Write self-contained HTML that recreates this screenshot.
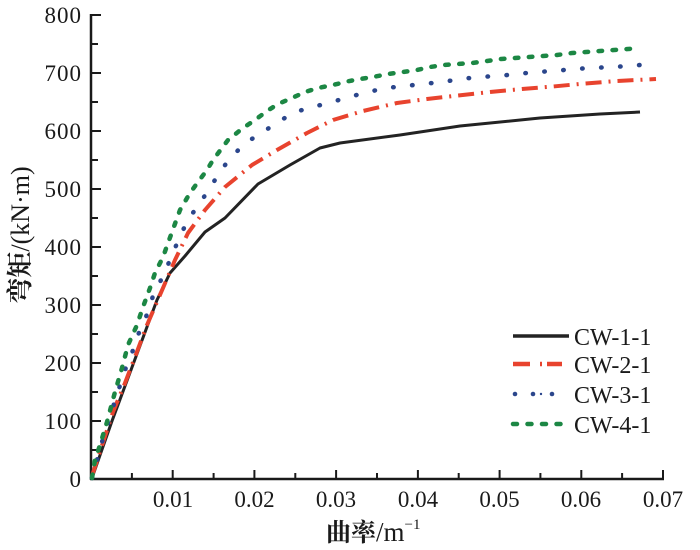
<!DOCTYPE html>
<html>
<head>
<meta charset="utf-8">
<style>
html,body{margin:0;padding:0;background:#fff;}
svg{display:block;}
.t{font-family:"Liberation Serif","Noto Serif CJK SC",serif;fill:#1a1a1a;}
</style>
</head>
<body>
<svg width="700" height="550" viewBox="0 0 700 550" xmlns="http://www.w3.org/2000/svg">
<rect width="700" height="550" fill="#fff"/>
<!-- axes -->
<g stroke="#1a1a1a" stroke-width="2.5" fill="none">
<line x1="91" y1="14" x2="91" y2="480"/>
<line x1="90" y1="479" x2="664" y2="479"/>
</g>
<!-- y ticks -->
<g stroke="#1a1a1a" stroke-width="2">
<line x1="91" y1="15" x2="101" y2="15"/>
<line x1="91" y1="44" x2="98" y2="44"/>
<line x1="91" y1="73" x2="101" y2="73"/>
<line x1="91" y1="102" x2="98" y2="102"/>
<line x1="91" y1="131" x2="101" y2="131"/>
<line x1="91" y1="160" x2="98" y2="160"/>
<line x1="91" y1="189" x2="101" y2="189"/>
<line x1="91" y1="218" x2="98" y2="218"/>
<line x1="91" y1="247" x2="101" y2="247"/>
<line x1="91" y1="276" x2="98" y2="276"/>
<line x1="91" y1="305" x2="101" y2="305"/>
<line x1="91" y1="334" x2="98" y2="334"/>
<line x1="91" y1="363" x2="101" y2="363"/>
<line x1="91" y1="392" x2="98" y2="392"/>
<line x1="91" y1="421" x2="101" y2="421"/>
<line x1="91" y1="450" x2="98" y2="450"/>
</g>
<!-- x ticks -->
<g stroke="#1a1a1a" stroke-width="2">
<line x1="131.9" y1="479" x2="131.9" y2="473"/>
<line x1="172.7" y1="479" x2="172.7" y2="470"/>
<line x1="213.6" y1="479" x2="213.6" y2="473"/>
<line x1="254.4" y1="479" x2="254.4" y2="470"/>
<line x1="295.3" y1="479" x2="295.3" y2="473"/>
<line x1="336.1" y1="479" x2="336.1" y2="470"/>
<line x1="377" y1="479" x2="377" y2="473"/>
<line x1="417.9" y1="479" x2="417.9" y2="470"/>
<line x1="458.7" y1="479" x2="458.7" y2="473"/>
<line x1="499.6" y1="479" x2="499.6" y2="470"/>
<line x1="540.4" y1="479" x2="540.4" y2="473"/>
<line x1="581.3" y1="479" x2="581.3" y2="470"/>
<line x1="622.1" y1="479" x2="622.1" y2="473"/>
<line x1="663" y1="479" x2="663" y2="470"/>
</g>
<!-- y labels -->
<g class="t" font-size="23" text-anchor="end" letter-spacing="1">
<text x="82" y="23">800</text>
<text x="82" y="81">700</text>
<text x="82" y="139">600</text>
<text x="82" y="197">500</text>
<text x="82" y="255">400</text>
<text x="82" y="313">300</text>
<text x="82" y="371">200</text>
<text x="82" y="429">100</text>
<text x="82" y="487">0</text>
</g>
<!-- x labels -->
<g class="t" font-size="23" text-anchor="middle">
<text x="173" y="507">0.01</text>
<text x="254.5" y="507">0.02</text>
<text x="336" y="507">0.03</text>
<text x="418" y="507">0.04</text>
<text x="499.5" y="507">0.05</text>
<text x="581" y="507">0.06</text>
<text x="663" y="507">0.07</text>
</g>
<!-- axis titles -->
<text class="t" x="326" y="541" font-size="25" font-weight="bold">曲率<tspan font-weight="normal" font-size="27">/m</tspan><tspan font-weight="normal" font-size="15" dy="-12">−1</tspan></text>
<text class="t" transform="translate(29,235) rotate(-90)" x="0" y="0" font-size="26" text-anchor="middle"><tspan font-weight="bold">弯矩</tspan>/(kN·m)</text>

<!-- series -->
<g fill="none" stroke-linejoin="round">
<polyline stroke="#232323" stroke-width="3" points="92,478 112,421 157,300 170,273 185,256 205,232 225,218 258,184 290,165 320,148 340,143 400,135 460,126 540,118 600,114 640,112"/>
<polyline stroke="#e8432e" stroke-width="4" stroke-dasharray="16 7 2 7" points="92,476 113,412 125,383 135,357 147,325 163,288 175,260 188,233 205,210 225,187 252,165 277,150 307,133 333,120 363,111 397,103 427,99 458,95.5 490,92 522,89 553,86.5 585,83.5 617,81 656,79"/>
<polyline stroke="#2b468c" stroke-width="4.5" stroke-linecap="round" stroke-dasharray="0.5 18.5" points="92,478 97,460 102,442 113,407 125,370 132,353 138,335 146,317 153,296 160,282 167,267 175,248 183,230 190,217 202,200 213,183 222,169 232,156 247,142 263,132 278,122 295,112 313,107 332,102 349,97 368,92 386,88 405,86 423,84 442,82 461,79 479,77 498,76 517,74 536,72 555,71 573,69 592,68 611,67 630,66 640,65"/>
<polyline stroke="#1c8744" stroke-width="4.5" stroke-linecap="round" stroke-dasharray="3.5 10.5" points="92,478 95,460 100,445 107,422 115,392 122,368 128,345 137,325 143,307 150,288 155,273 163,257 172,232 180,210 190,193 198,182 207,170 213,160 228,140 243,128 255,120 267,111 278,104 292,98 305,92 318,88 333,85 347,81.5 360,79 373,77 388,74 403,72 417,70 430,67 444,65 458,64 472,63 487,61 501,59 515,58 529,57 543,56 557,55 572,53 586,52 600,51 614,50 628,49 640,48"/>
</g>

<!-- legend -->
<g fill="none">
<line x1="513" y1="336" x2="569" y2="336" stroke="#232323" stroke-width="3.5"/>
<line x1="513" y1="364" x2="530" y2="364" stroke="#e8432e" stroke-width="4.5"/>
<line x1="540" y1="364" x2="542" y2="364" stroke="#e8432e" stroke-width="4.5"/>
<line x1="547" y1="364" x2="562" y2="364" stroke="#e8432e" stroke-width="4.5"/>
<circle cx="515" cy="394" r="2.3" fill="#2b468c"/>
<circle cx="533" cy="394" r="2.3" fill="#2b468c"/>
<circle cx="541" cy="394" r="1.2" fill="#2b468c"/>
<circle cx="552" cy="394" r="2.3" fill="#2b468c"/>
<line x1="513" y1="424" x2="568" y2="424" stroke="#1c8744" stroke-width="4.5" stroke-linecap="round" stroke-dasharray="4 10.5"/>
</g>
<g class="t" font-size="24">
<text x="574" y="345">CW-1-1</text>
<text x="574" y="373">CW-2-1</text>
<text x="574" y="403">CW-3-1</text>
<text x="574" y="433">CW-4-1</text>
</g>
</svg>
</body>
</html>
